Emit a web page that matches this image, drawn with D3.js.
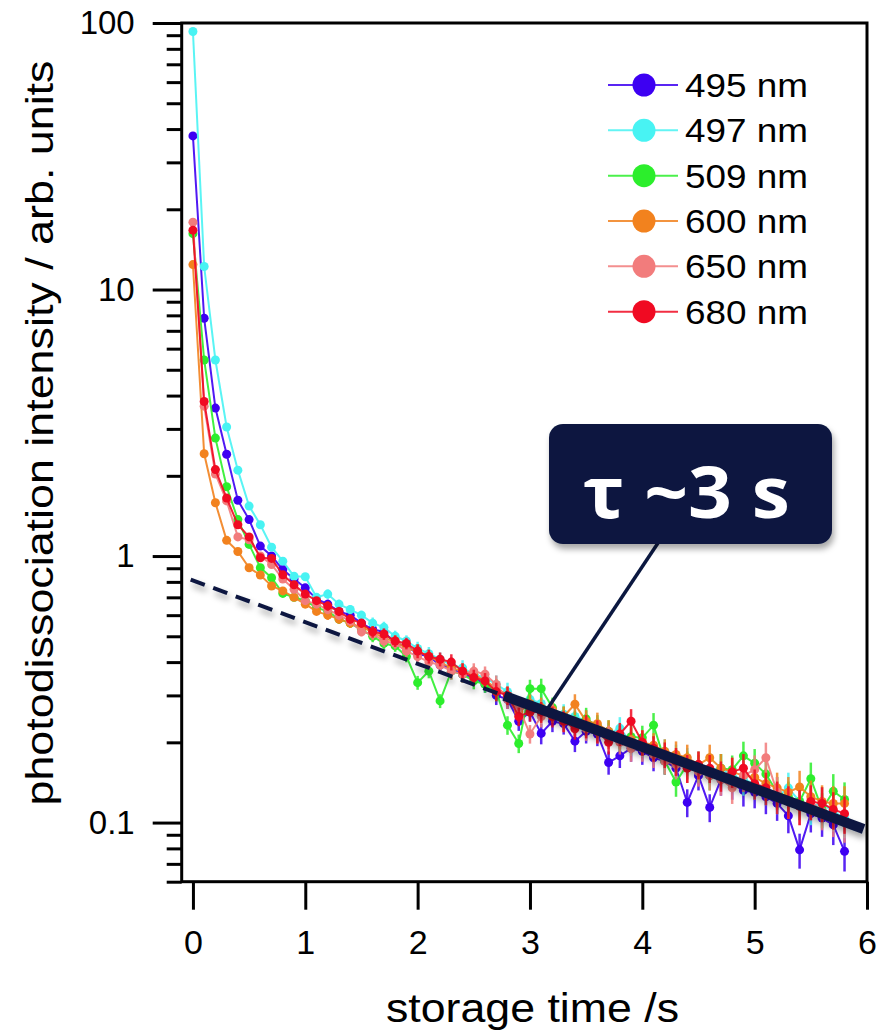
<!DOCTYPE html>
<html><head><meta charset="utf-8">
<script src="https://cdn.jsdelivr.net/npm/d3@7"></script>
<style>body{margin:0;background:#fff}svg{display:block}</style>
</head><body>
<svg id="c" width="878" height="1032"></svg>
<script>
// ---------- data ----------
const times = [0,0.1,0.2,0.3,0.4,0.5,0.6,0.7,0.8,0.9,1.0,
 1.1,1.2,1.3,1.4,1.5,1.6,1.7,1.8,1.9,2.0,
 2.1,2.2,2.3,2.4,2.5,2.6,2.7,2.8,2.9,3.0,
 3.1,3.2,3.3,3.4,3.5,3.6,3.7,3.8,3.9,4.0,
 4.1,4.2,4.3,4.4,4.5,4.6,4.7,4.8,4.9,5.0,
 5.1,5.2,5.3,5.4,5.5,5.6,5.7,5.8];
const seriesNames = ["495 nm","497 nm","509 nm","600 nm","650 nm","680 nm"];
const seriesColors = ["#3d00f2","#48f3f3","#2cee2c","#f2821e","#f27c7c","#f00a22"];
const s495 = [37.7,7.8,3.59,2.41,1.62,1.37,1.09,1.0,0.89,0.82,0.76,
 0.69,0.66,0.62,0.60,0.56,0.53,0.52,0.47,0.46,0.43,
 0.42,0.39,0.38,0.36,0.35,0.33,0.30,0.29,0.24,0.26,
 0.216,0.24,0.235,0.202,0.22,0.215,0.168,0.178,0.19,0.185,
 0.175,0.17,0.16,0.119,0.15,0.114,0.145,0.14,0.132,0.13,
 0.125,0.118,0.106,0.079,0.108,0.104,0.098,0.078];
const s497 = [92.9,12.2,5.44,3.05,2.10,1.54,1.31,1.08,0.957,0.84,0.836,
 0.70,0.72,0.66,0.63,0.60,0.56,0.54,0.50,0.48,0.45,
 0.43,0.41,0.39,0.38,0.36,0.35,0.33,0.31,0.27,0.29,
 0.28,0.26,0.255,0.25,0.24,0.225,0.215,0.226,0.20,0.198,
 0.19,0.185,0.175,0.17,0.165,0.158,0.16,0.15,0.145,0.14,
 0.135,0.125,0.135,0.12,0.115,0.118,0.11,0.104];
const s509 = [16.2,5.44,2.77,1.82,1.37,1.106,0.904,0.829,0.724,0.70,0.68,
 0.64,0.62,0.58,0.56,0.53,0.50,0.47,0.46,0.42,0.335,
 0.37,0.286,0.37,0.36,0.34,0.33,0.31,0.232,0.198,0.318,
 0.318,0.27,0.25,0.24,0.245,0.23,0.22,0.205,0.21,0.208,
 0.232,0.17,0.142,0.165,0.16,0.15,0.16,0.158,0.178,0.167,
 0.152,0.13,0.125,0.12,0.146,0.112,0.131,0.122];
const s600 = [12.4,2.42,1.585,1.145,1.04,0.904,0.849,0.772,0.74,0.70,0.66,
 0.62,0.60,0.58,0.56,0.54,0.52,0.49,0.48,0.45,0.44,
 0.42,0.40,0.38,0.37,0.36,0.34,0.32,0.30,0.26,0.28,
 0.27,0.265,0.25,0.278,0.24,0.235,0.22,0.21,0.205,0.2,
 0.195,0.185,0.18,0.175,0.165,0.175,0.16,0.155,0.15,0.148,
 0.14,0.135,0.13,0.136,0.125,0.12,0.118,0.118];
const s650 = [17.9,3.65,2.03,1.61,1.18,1.15,1.0,0.93,0.82,0.75,0.68,
 0.66,0.63,0.60,0.57,0.52,0.51,0.48,0.47,0.44,0.42,
 0.40,0.39,0.37,0.36,0.37,0.36,0.33,0.29,0.27,0.215,
 0.25,0.26,0.24,0.23,0.225,0.22,0.21,0.20,0.19,0.19,
 0.18,0.17,0.165,0.16,0.155,0.15,0.145,0.135,0.15,0.158,
 0.175,0.13,0.12,0.115,0.12,0.11,0.105,0.1];
const s680 = [16.7,3.8,2.11,1.65,1.31,1.18,0.985,0.98,0.85,0.78,0.72,
 0.68,0.65,0.62,0.58,0.56,0.52,0.51,0.48,0.47,0.44,
 0.42,0.41,0.40,0.37,0.35,0.34,0.31,0.30,0.25,0.26,
 0.26,0.25,0.24,0.225,0.23,0.22,0.20,0.215,0.24,0.2,
 0.19,0.18,0.17,0.16,0.165,0.16,0.15,0.155,0.16,0.14,
 0.135,0.125,0.12,0.115,0.12,0.118,0.112,0.108];
// relative uncertainty of each time point
const errFrac = [0.01,0.01,0.01,0.01,0.02,0.02,0.02,0.02,0.03,0.03,0.03,
 0.03,0.04,0.04,0.04,0.04,0.05,0.05,0.05,0.05,0.06,
 0.06,0.06,0.07,0.07,0.07,0.07,0.08,0.08,0.08,0.08,
 0.09,0.09,0.09,0.09,0.10,0.10,0.10,0.10,0.11,0.11,
 0.11,0.11,0.12,0.12,0.12,0.12,0.13,0.13,0.13,0.13,
 0.14,0.14,0.14,0.15,0.15,0.15,0.16,0.16];
const seriesValues = [s495,s497,s509,s600,s650,s680];
// exponential fit (tau ~3 s)
const fitAmp = 0.81, fitTau = 2.78;
const fitDashed = [-0.02, 2.75];
const fitSolid = [2.77, 5.97];
const xTicks = [0,1,2,3,4,5,6];
const yMajor = [0.1,1,10,100];
const yTickLabels = ["0.1","1","10","100"];
const yMinor = [0.06,0.07,0.08,0.09,0.2,0.3,0.4,0.5,0.6,0.7,0.8,0.9,2,3,4,5,6,7,8,9,20,30,40,50,60,70,80,90];
const xTitle = "storage time /s";
const yTitle = "photodissociation intensity / arb. units";
const annotation = "τ ~3 s";

// ---------- drawing ----------
const svg = d3.select("#c");
const L = 181.7, R = 867, T = 23, B = 881.7;
const x = d3.scaleLinear().domain([-0.1, 6]).range([L, R]);
const y = d3.scaleLog().domain([0.06, 100]).range([B, T]);
const navy = "#0b1840";

const defs = svg.append("defs");
defs.append("clipPath").attr("id","clip").append("rect")
  .attr("x",L).attr("y",T).attr("width",R-L).attr("height",B-T);
const sh = defs.append("filter").attr("id","shadow").attr("x","-20%").attr("y","-50%").attr("width","140%").attr("height","200%");
sh.append("feDropShadow").attr("dx",2).attr("dy",5).attr("stdDeviation",3).attr("flood-color","#000").attr("flood-opacity",0.35);

const plot = svg.append("g").attr("clip-path","url(#clip)");

const line = d3.line().x(d => x(d.t)).y(d => y(d.v));
seriesValues.forEach((vals, i) => {
  const pts = times.map((t, k) => ({t, v: vals[k], e: vals[k]*errFrac[k]}));
  const g = plot.append("g");
  g.selectAll("line.err").data(pts).join("line")
    .attr("x1", d => x(d.t)).attr("x2", d => x(d.t))
    .attr("y1", d => y(d.v + d.e)).attr("y2", d => y(Math.max(d.v - d.e, 0.001)))
    .attr("stroke", seriesColors[i]).attr("stroke-width", 2.5).attr("opacity", 0.85);
  g.append("path").datum(pts).attr("d", line).attr("fill","none")
    .attr("stroke", seriesColors[i]).attr("stroke-width", 2).attr("opacity", 0.9);
  g.selectAll("circle").data(pts).join("circle")
    .attr("cx", d => x(d.t)).attr("cy", d => y(d.v)).attr("r", 4.5)
    .attr("fill", seriesColors[i]);
});

// fit lines
const fitPts = r => r.map(t => ({t, v: fitAmp*Math.exp(-t/fitTau)}));
plot.append("path").datum(fitPts(fitDashed)).attr("d", line).attr("fill","none")
  .attr("stroke", navy).attr("stroke-width", 4).attr("stroke-dasharray","15,9")
  .attr("filter","url(#shadow)");
plot.append("path").datum(fitPts(fitSolid)).attr("d", line).attr("fill","none")
  .attr("stroke", navy).attr("stroke-width", 10).attr("filter","url(#shadow)");

// axes
const axisStyle = g => {
  g.selectAll("path.domain").remove();
  g.selectAll(".tick line").attr("stroke","#000").attr("stroke-width",3);
  g.selectAll("text").attr("fill","#000").attr("font-family","'Liberation Sans', Arial, sans-serif");
};
svg.append("g").attr("transform",`translate(${L},0)`)
  .call(d3.axisLeft(y).tickValues(yMajor).tickSize(29).tickPadding(18).tickFormat((d,i)=>yTickLabels[i]))
  .call(axisStyle).call(g => g.selectAll("text").attr("font-size",33));
svg.append("g").attr("transform",`translate(${L},0)`)
  .call(d3.axisLeft(y).tickValues(yMinor).tickSize(15).tickFormat(""))
  .call(axisStyle);
svg.append("g").attr("transform",`translate(0,${B})`)
  .call(d3.axisBottom(x).tickValues(xTicks).tickSize(28).tickPadding(20).tickFormat(d3.format("d")))
  .call(axisStyle).call(g => g.selectAll("text").attr("font-size",34));

// frame
svg.append("rect").attr("x",L).attr("y",T).attr("width",R-L).attr("height",B-T)
  .attr("fill","none").attr("stroke","#000").attr("stroke-width",3);

// titles
svg.append("text").attr("x",(385+680)/2).attr("y",1022).attr("text-anchor","middle")
  .attr("font-family","'Liberation Sans', Arial, sans-serif").attr("font-size",40)
  .attr("textLength",293).attr("lengthAdjust","spacingAndGlyphs").text(xTitle);
svg.append("text").attr("transform","translate(53,433) rotate(-90)").attr("text-anchor","middle")
  .attr("font-family","'Liberation Sans', Arial, sans-serif").attr("font-size",38)
  .attr("textLength",745).attr("lengthAdjust","spacingAndGlyphs").text(yTitle);

// legend
const lg = svg.append("g");
const legY = d3.scaleLinear().domain([0,5]).range([85,311.7]);
seriesNames.forEach((n,i) => {
  const yy = legY(i);
  lg.append("line").attr("x1",608).attr("x2",678).attr("y1",yy).attr("y2",yy)
    .attr("stroke",seriesColors[i]).attr("stroke-width",2).attr("opacity",0.85);
  lg.append("circle").attr("cx",644).attr("cy",yy).attr("r",11.5).attr("fill",seriesColors[i]);
  lg.append("text").attr("x",685).attr("y",yy+12).attr("font-family","'Liberation Sans', Arial, sans-serif")
    .attr("font-size",33).attr("textLength",123).attr("lengthAdjust","spacingAndGlyphs").text(n);
});

// annotation
svg.append("line").attr("x1",660).attr("y1",540).attr("x2",548).attr("y2",708)
  .attr("stroke",navy).attr("stroke-width",3.5);
svg.append("rect").attr("x",549).attr("y",424).attr("width",283).attr("height",120).attr("rx",14)
  .attr("fill",navy).attr("filter","url(#shadow)");
svg.append("text").attr("x",(583+790)/2).attr("y",518).attr("text-anchor","middle")
  .attr("font-family","'Open Sans', 'DejaVu Sans', sans-serif").attr("font-weight","bold")
  .attr("font-size",72).attr("fill","#fff").attr("textLength",207).attr("lengthAdjust","spacingAndGlyphs")
  .text(annotation);
</script>
</body></html>
